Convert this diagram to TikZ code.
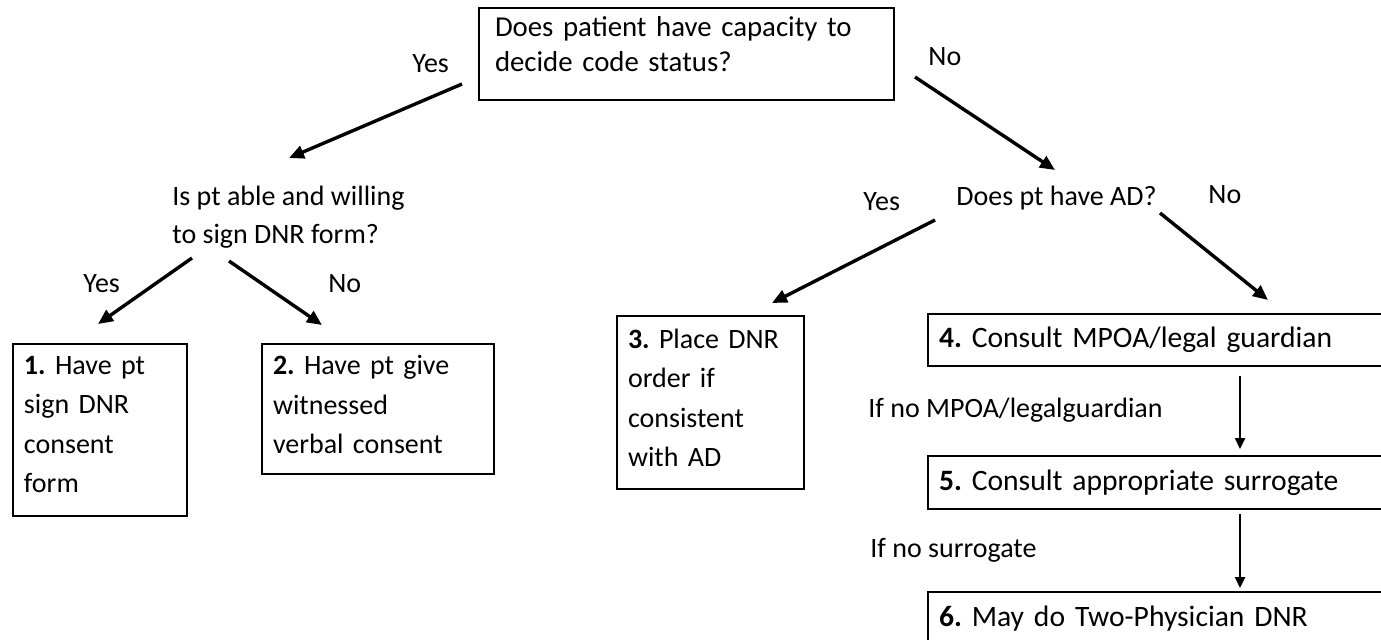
\documentclass[tikz,border=0pt]{standalone}
\usepackage{fontspec}
\setmainfont{Carlito}
\usetikzlibrary{arrows.meta}
\newcommand{\padbox}[1]{\rule[-#1]{0pt}{#1}}
\frenchspacing

\begin{document}
\begin{tikzpicture}[
	x=0.5pt, y=-0.5pt,
	box/.style={draw, line width=1pt, anchor=north west, align=left, inner xsep=5.5pt, inner ysep=0pt},
	wide/.style={box, text width=223pt, font=\fontsize{14.8pt}{19.75pt}\selectfont},
	lbl/.style={anchor=base west, inner sep=0pt},
	flow/.style={-{Triangle[length=7.5pt, width=6.5pt]}, line width=1.7pt},
	down/.style={-{Triangle[length=5.5pt, width=5pt]}, line width=1.2pt},
	font=\fontsize{14pt}{19.75pt}\selectfont
	]
	\useasboundingbox (0,0) rectangle (1381,639);
	
	\node[box, text width=191.5pt, minimum height=46pt, inner xsep=8pt, font=\fontsize{14.4pt}{17.5pt}\selectfont] (cap) at (478,7) {Does patient have capacity to\\decide code status?\padbox{10pt}};
	\node[lbl] (capYes) at (412,72) {Yes};
	\node[lbl] (capNo) at (928,65) {No};
	
	\node[anchor=north west, inner sep=0pt, align=left, font=\fontsize{14pt}{19pt}\selectfont] (able) at (172,186) {Is pt able and willing\\to sign DNR form?};
	\node[lbl] (ableYes) at (83,292) {Yes};
	\node[lbl] (ableNo) at (328,292) {No};
	
	\node[lbl] (ad) at (956,205) {Does pt have AD?};
	\node[lbl] (adYes) at (863,210) {Yes};
	\node[lbl] (adNo) at (1208,203) {No};
	
	\node[box, text width=76pt, minimum height=86pt] (sign) at (12,343) {\textbf{1.} Have pt\\sign DNR\\consent\\form\padbox{5.5pt}};
	\node[box, text width=105pt, minimum height=65pt] (verbal) at (261,343) {\textbf{2.} Have pt give\\witnessed\\verbal consent\padbox{4.5pt}};
	\node[box, text width=82.5pt, minimum height=86.5pt] (place) at (616,315) {\textbf{3.} Place DNR\\order if\\consistent\\with AD\padbox{4.5pt}};
	
	\node[wide, minimum height=26pt] (mpoa) at (927,313) {\textbf{4.} Consult MPOA/legal guardian};
	\node[wide, minimum height=26.5pt] (surr) at (927,455) {\textbf{5.} Consult appropriate surrogate};
	\node[wide, minimum height=26.5pt] (twodoc) at (927,591) {\textbf{6.} May do Two-Physician DNR};
	\node[lbl] (noMpoa) at (868,417) {If no MPOA/legalguardian};
	\node[lbl] (noSurr) at (870,557) {If no surrogate};
	
	\coordinate (capL) at (462,84);
	\coordinate (ableT) at (289,158);
	\coordinate (capR) at (915,77);
	\coordinate (adT) at (1055,170);
	\coordinate (ableL) at (192,258);
	\coordinate (signT) at (98,324);
	\coordinate (ableR) at (229,261);
	\coordinate (verbalT) at (322,325);
	\coordinate (adL) at (935,220);
	\coordinate (placeT) at (772,303);
	\coordinate (adR) at (1160,213);
	\coordinate (mpoaT) at (1268,300);
	\coordinate (mpoaB) at (1240,376);
	\coordinate (surrT) at (1240,449);
	\coordinate (surrB) at (1240,514);
	\coordinate (twodocT) at (1240,588);
	
	\draw[flow] (capL) -- (ableT);
	\draw[flow] (capR) -- (adT);
	\draw[flow] (ableL) -- (signT);
	\draw[flow] (ableR) -- (verbalT);
	\draw[flow] (adL) -- (placeT);
	\draw[flow] (adR) -- (mpoaT);
	\draw[down] (mpoaB) -- (surrT);
	\draw[down] (surrB) -- (twodocT);
	
\end{tikzpicture}
\end{document}
